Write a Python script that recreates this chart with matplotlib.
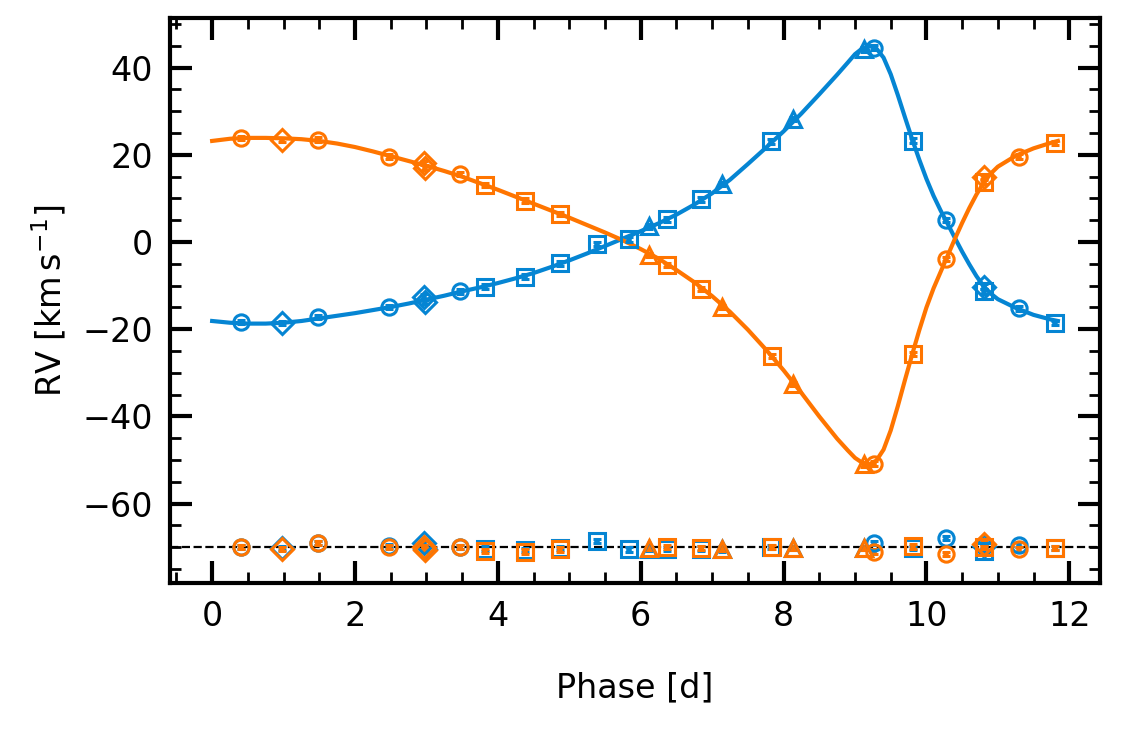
import numpy as np
import matplotlib
matplotlib.use('Agg')
import matplotlib.pyplot as plt
from matplotlib.ticker import MultipleLocator

# orbital model curves
model_phase = [0.0, 0.25, 0.5, 0.75, 1.0, 1.25, 1.5, 1.75, 2.0, 2.25, 2.5, 2.75,
               3.0, 3.25, 3.5, 3.75, 4.0, 4.25, 4.5, 4.75, 5.0, 5.25, 5.5, 5.75,
               6.0, 6.25, 6.5, 6.75, 7.0, 7.25, 7.5, 7.75, 8.0, 8.25, 8.5, 8.75,
               8.9, 9.0, 9.1, 9.2, 9.3, 9.4, 9.5, 9.6, 9.7, 9.8, 9.9, 10.0,
               10.1, 10.2, 10.3, 10.4, 10.5, 10.6, 10.7, 10.8, 10.9, 11.0,
               11.25, 11.5, 11.75, 11.84]
model_rv1 = [-18.1, -18.5, -18.7, -18.7, -18.5, -18.1, -17.5, -16.9, -16.3, -15.6, -14.9, -14.1,
             -13.2, -12.3, -11.3, -10.4, -9.4, -8.3, -7.1, -5.7, -4.2, -2.6, -0.9, 0.8,
             2.5, 4.3, 6.3, 8.6, 11.2, 14.3, 17.9, 21.6, 25.4, 29.5, 33.9, 38.4,
             41.2, 43.1, 44.4, 45.0, 44.4, 42.3, 38.5, 33.7, 28.6, 23.6, 18.9, 14.5,
             10.6, 7.2, 4.1, 0.9, -2.2, -5.1, -7.8, -10.1, -11.8, -13.1,
             -15.1, -16.7, -17.8, -18.1]
model_rv2 = [23.2, 23.7, 23.9, 23.9, 23.8, 23.6, 23.2, 22.6, 21.8, 20.8, 19.7, 18.6,
             17.5, 16.3, 15.0, 13.5, 12.0, 10.4, 8.8, 7.2, 5.6, 3.9, 2.2, 0.4,
             -1.6, -3.8, -6.4, -9.2, -12.4, -16.0, -20.1, -24.6, -29.4, -34.6, -40.0, -45.1,
             -47.8, -49.5, -50.6, -51.0, -50.1, -47.6, -43.2, -37.6, -31.6, -25.8, -20.2, -15.0,
             -10.6, -6.8, -3.0, 0.8, 4.4, 7.8, 10.9, 13.6, 15.7, 17.3,
             19.8, 21.5, 22.8, 23.2]

# measurements per instrument (marker), primary = 1, secondary = 2
circ_phase = [0.41, 1.48, 2.48, 3.47, 9.26, 10.27, 11.30]
circ_rv1 = [-18.4, -17.2, -14.9, -11.3, 44.6, 5.1, -15.2]
circ_rv2 = [23.9, 23.5, 19.6, 15.6, -50.8, -3.9, 19.6]
circ_res1 = [0.0, 1.0, 0.3, 0.0, 1.0, 2.1, 0.6]
circ_res2 = [0.0, 1.0, 0.0, 0.0, -1.0, -1.6, -0.5]

dia_phase = [0.98, 2.97, 2.98, 10.80]
dia_rv1 = [-18.6, -12.5, -13.7, -10.2]
dia_rv2 = [23.4, 18.1, 17.1, 15.0]
dia_res1 = [-0.2, 1.0, -0.3, 0.3]
dia_res2 = [-0.4, 0.0, -0.6, 0.7]

sq_phase1 = [3.82, 4.38, 4.87, 5.39, 5.84, 6.37, 6.84, 7.83, 9.81, 10.80, 11.80]
sq_rv1 = [-10.2, -7.9, -4.9, -0.4, 0.6, 5.2, 9.8, 23.1, 23.3, -11.3, -18.6]
sq_res1 = [-0.3, -0.6, -0.1, 1.4, -0.5, -0.4, -0.3, 0.0, -0.2, -0.9, -0.1]
sq_phase2 = [3.82, 4.38, 4.87, 6.37, 6.84, 7.84, 9.81, 10.80, 11.80]
sq_rv2 = [13.1, 9.5, 6.4, -5.2, -10.8, -26.2, -25.7, 13.8, 22.7]
sq_res2 = [-0.8, -1.0, -0.5, 0.0, -0.1, 0.0, 0.2, 0.0, -0.1]

tri_phase = [6.12, 7.14, 8.13, 9.12]
tri_rv1 = [3.6, 13.3, 28.2, 44.2]
tri_rv2 = [-2.9, -14.9, -32.6, -51.0]
tri_res1 = [-0.4, -0.5, -0.2, -0.2]
tri_res2 = [-0.1, -0.3, -0.2, -0.2]

rv_err = 0.5
res_offset = -70

c1 = '#0585d3'
c2 = '#ff7500'

plt.rcParams['font.size'] = 12

fig = plt.figure(figsize=(11.29 / 2, 7.35 / 2), dpi=200)
ax = fig.add_axes([170 / 1129, 1 - 583 / 735, 930 / 1129, 565 / 735])

ax.plot(model_phase, model_rv1, color=c1, lw=1.5, zorder=2)
ax.plot(model_phase, model_rv2, color=c2, lw=1.5, zorder=2)
ax.axhline(res_offset, color='k', lw=0.8, ls='--', zorder=1)


def points(x, y, marker, color):
    ax.errorbar(x, y, yerr=rv_err, fmt=marker, ms=5.5, mew=1.1, mfc='none',
                mec=color, ecolor=color, elinewidth=2.0, capsize=1.3,
                capthick=1.5, zorder=3)


groups1 = [(circ_phase, circ_rv1, circ_res1, 'o'),
           (dia_phase, dia_rv1, dia_res1, 'D'),
           (sq_phase1, sq_rv1, sq_res1, 's'),
           (tri_phase, tri_rv1, tri_res1, '^')]
groups2 = [(circ_phase, circ_rv2, circ_res2, 'o'),
           (dia_phase, dia_rv2, dia_res2, 'D'),
           (sq_phase2, sq_rv2, sq_res2, 's'),
           (tri_phase, tri_rv2, tri_res2, '^')]

for ph, rv, res, m in groups1:
    points(ph, rv, m, c1)
    points(ph, np.array(res) + res_offset, m, c1)
for ph, rv, res, m in groups2:
    points(ph, rv, m, c2)
    points(ph, np.array(res) + res_offset, m, c2)

ax.set_xlim(-0.59, 12.43)
ax.set_ylim(-78.2, 51.4)
ax.xaxis.set_major_locator(MultipleLocator(2))
ax.xaxis.set_minor_locator(MultipleLocator(0.5))
ax.yaxis.set_major_locator(MultipleLocator(20))
ax.yaxis.set_minor_locator(MultipleLocator(5))
ax.tick_params(which='both', direction='in', top=True, right=True)
ax.tick_params(which='major', length=8, width=1.5, pad=6)
ax.tick_params(which='minor', length=4, width=1.0)
for s in ax.spines.values():
    s.set_linewidth(1.5)

ax.set_xlabel('Phase [d]', labelpad=14)
ax.set_ylabel(r'RV [$\mathrm{km\,s^{-1}}$]', labelpad=5)

fig.savefig('out.png', dpi=200)
